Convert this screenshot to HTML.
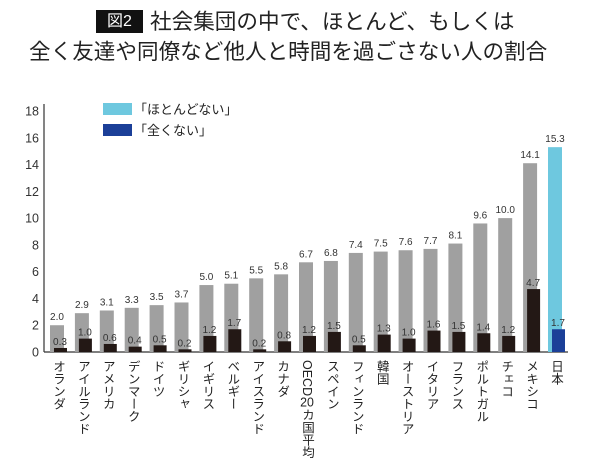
<!DOCTYPE html>
<html><head><meta charset="utf-8">
<style>
body{margin:0;background:#fff;font-family:"Liberation Sans","Noto Sans CJK JP",sans-serif;}
#root{position:relative;width:600px;height:474px;overflow:hidden;background:#fff;}
.t{position:absolute;font-size:21.6px;color:#222;white-space:nowrap;line-height:24px;}
#badge{position:absolute;left:96px;top:10px;width:47px;height:23px;background:#111;color:#fff;font-size:16px;line-height:23px;text-align:center;}
.lab{position:absolute;top:360px;writing-mode:vertical-rl;font-size:12.5px;line-height:14px;color:#222;white-space:nowrap;}
.tcu{text-combine-upright:all;}
</style></head><body>
<div id="root">
<div id="badge">図2</div>
<div class="t" style="left:150px;top:10px">社会集団の中で、ほとんど、もしくは</div>
<div class="t" style="left:29px;top:40px">全く友達や同僚など他人と時間を過ごさない人の割合</div>
<svg id="svg" width="600" height="474" style="position:absolute;left:0;top:0"></svg>
<div id="labels"></div>
</div>
<script>
const categories=["オランダ","アイルランド","アメリカ","デンマーク","ドイツ","ギリシャ","イギリス","ベルギー","アイスランド","カナダ","OECD20カ国平均","スペイン","フィンランド","韓国","オーストリア","イタリア","フランス","ポルトガル","チェコ","メキシコ","日本"];
const hardlyValues=[2.0,2.9,3.1,3.3,3.5,3.7,5.0,5.1,5.5,5.8,6.7,6.8,7.4,7.5,7.6,7.7,8.1,9.6,10.0,14.1,15.3];
const neverValues=[0.3,1.0,0.6,0.4,0.5,0.2,1.2,1.7,0.2,0.8,1.2,1.5,0.5,1.3,1.0,1.6,1.5,1.4,1.2,4.7,1.7];
const yTicks=[0,2,4,6,8,10,12,14,16,18];
const NS="http://www.w3.org/2000/svg";
const svg=document.getElementById('svg');
const y0=352,y1=111,yMax=18;
const y=v=>y0-(v/yMax)*(y0-y1);
const x=i=>50+i*24.9;
function mk(tag,attrs){const e=document.createElementNS(NS,tag);for(const k in attrs)e.setAttribute(k,attrs[k]);svg.appendChild(e);return e;}
let e=mk('line',{x1:44,y1:104,x2:44,y2:y0,stroke:'#333','stroke-width':1.2});


e=mk('line',{x1:44,y1:y0,x2:568,y2:y0,stroke:'#333','stroke-width':1.2});


yTicks.forEach(t=>{
  const tx=mk('text',{x:39,y:y(t)+4.5,'text-anchor':'end','font-size':12.5,fill:'#333'});
  tx.textContent=t;
  
  
});
const lbl=document.getElementById('labels');
categories.forEach((c,i)=>{
  const last=i===categories.length-1;
  const b=mk('rect',{x:x(i),y:y(hardlyValues[i]),width:14,height:y0-y(hardlyValues[i]),fill:last?'#6ec8df':'#a0a0a0'});
  
  
  const d=mk('rect',{x:x(i)+4,y:y(neverValues[i]),width:13,height:y0-y(neverValues[i]),fill:last?'#1b3f98':'#231815'});
  
  
  const t1=mk('text',{x:x(i)+7,y:y(hardlyValues[i])-5,'text-anchor':'middle','font-size':10,fill:'#333'});
  t1.textContent=hardlyValues[i].toFixed(1);
  
  
  const t2=mk('text',{x:x(i)+10,y:y(neverValues[i])-3,'text-anchor':'middle','font-size':10,fill:'#333'});
  t2.textContent=neverValues[i].toFixed(1);
  
  
  const l=document.createElement('div');
  l.className='lab';
  l.style.left=(x(i)+1)+'px';
  if(c.indexOf('20')>=0){const p=c.split('20');l.innerHTML=p[0]+'<span class="tcu">20</span>'+p[1];}else l.textContent=c;
  
  
  lbl.appendChild(l);
});
e=mk('rect',{x:103,y:103,width:29,height:12,fill:'#6ec8df'});


e=mk('rect',{x:103,y:124,width:29,height:12,fill:'#1b3f98'});


e=mk('text',{x:134,y:114,'font-size':13,fill:'#222'});e.textContent='「ほとんどない」';


e=mk('text',{x:134,y:135,'font-size':13,fill:'#222'});e.textContent='「全くない」';


</script>
</body></html>
